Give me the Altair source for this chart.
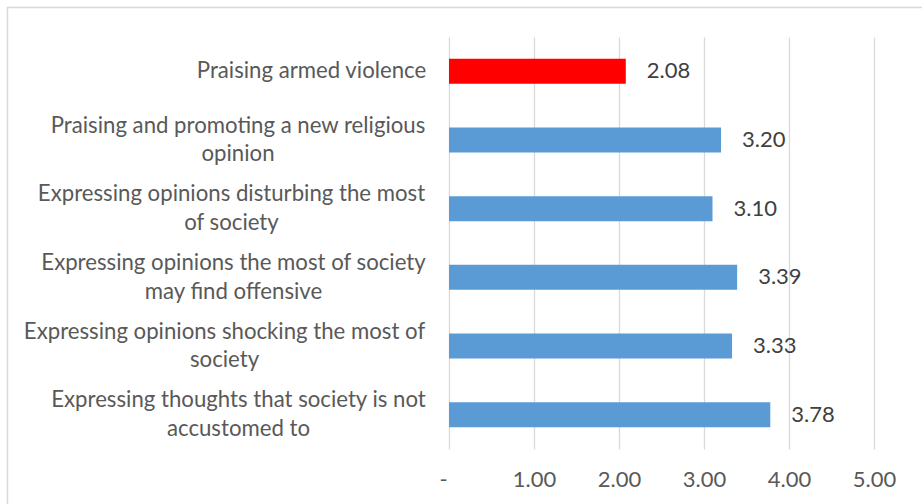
import altair as alt
import pandas as pd

categories = [
    "Praising armed violence",
    "Praising and promoting a new religious|opinion",
    "Expressing opinions disturbing the most|of society",
    "Expressing opinions the most of society|may find offensive",
    "Expressing opinions shocking the most of|society",
    "Expressing thoughts that society is not|accustomed to",
]
values = [2.08, 3.20, 3.10, 3.39, 3.33, 3.78]
bar_colors = ["#FF0000", "#5B9BD5", "#5B9BD5", "#5B9BD5", "#5B9BD5", "#5B9BD5"]
x_ticks = [0, 1, 2, 3, 4, 5]
# label paddings (style) so that wrapped lines are centered within a right-aligned block
label_pad = [138, 211.5, 218, 216, 225, 211]

df = pd.DataFrame({"cat": categories, "val": values, "color": bar_colors})

FONT = "Lato"
W, H = 425, 412
LH = 28.5

pad_cond = [{"test": f"datum.value === {repr(c)}", "value": p} for c, p in zip(categories, label_pad)]

y_enc = alt.Y(
    "cat:N",
    sort=categories,
    scale=alt.Scale(paddingInner=0.636, paddingOuter=0.318),
    axis=alt.Axis(
        title=None,
        domain=False,
        ticks=False,
        labelExpr="split(datum.label, '|')",
        labelAlign="center",
        labelBaseline="middle",
        labelFont=FONT,
        labelFontSize=22.2,
        labelColor="#595959",
        labelLineHeight=LH,
        labelLimit=0,
        labelPadding={"condition": pad_cond, "value": 215},
        labelOffset={"condition": {"test": "indexof(datum.value, '|') >= 0", "value": -LH / 2}, "value": 0},
    ),
)

x_enc = alt.X(
    "val:Q",
    scale=alt.Scale(domain=[0, 5], nice=False),
    axis=alt.Axis(
        title=None,
        values=x_ticks,
        domain=False,
        ticks=False,
        grid=True,
        gridColor="#D9D9D9",
        gridWidth=1.3,
        labelFlush=False,
        labelExpr="datum.value === 0 ? '-' : format(datum.value, '.2f')",
        labelFont=FONT,
        labelFontSize=22,
        labelColor="#595959",
        labelPadding=20,
        labelOffset={"condition": {"test": "datum.value === 0", "value": -6}, "value": 0},
    ),
)

bars = alt.Chart(df).mark_bar().encode(
    y=y_enc,
    x=x_enc,
    color=alt.Color("color:N", scale=None, legend=None),
)

text = alt.Chart(df).mark_text(
    align="left", baseline="middle", dx=21, font=FONT, fontSize=22, color="#404040"
).encode(
    y=alt.Y("cat:N", sort=categories),
    x="val:Q",
    text=alt.Text("val:Q", format=".2f"),
)

frame = alt.Chart(pd.DataFrame({"k": [0]})).mark_rect(
    fill="transparent", stroke="#D9D9D9", strokeWidth=1.5
).encode(
    x=alt.value(-441.5),
    x2=alt.value(W + 80),
    y=alt.value(-29.5),
    y2=alt.value(H + 80),
)

chart = alt.layer(frame, bars, text).properties(
    width=W,
    height=H,
    padding={"left": 449, "top": 37, "right": 48, "bottom": 55},
    autosize=alt.AutoSizeParams(type="none"),
    background="white",
).configure_view(stroke=None)

chart.save("out.html", embed_options={"renderer": "svg", "actions": False})
